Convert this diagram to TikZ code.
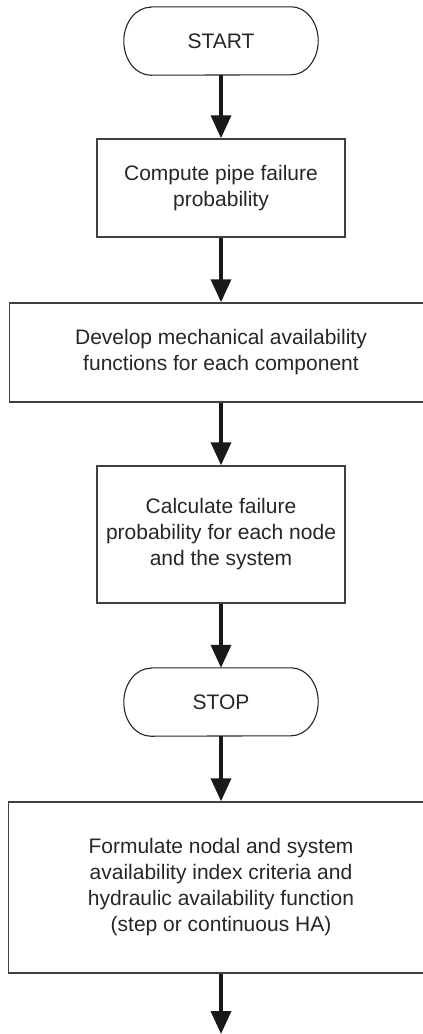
\documentclass[tikz,border=0pt]{standalone}
\usepackage{fontspec}
\setmainfont{Liberation Sans}
\usetikzlibrary{arrows.meta}
\tikzset{
  boxline/.style={draw=black!75, line width=1.5pt},
  stepbox/.style={boxline, rectangle, inner sep=0pt, align=center, text=black!85,
    font=\fontsize{21pt}{26pt}\selectfont},
  termnode/.style={rectangle, inner sep=0pt, align=center, text=black!85,
    minimum width=194pt, minimum height=68pt, font=\fontsize{21pt}{26pt}\selectfont},
  termline/.style={draw=black!85, line width=1.1pt},
  flow/.style={draw=black!90, line width=3.6pt, -{Triangle[width=20pt,length=23pt]}}
}
\newcommand\termoutline[1]{%
  \draw[termline] ([xshift=27pt]#1.north west) -- ([xshift=-27pt]#1.north east)
    arc[start angle=90,end angle=-90,x radius=27pt,y radius=34pt]
    -- ([xshift=27pt]#1.south west)
    arc[start angle=270,end angle=90,x radius=27pt,y radius=34pt] -- cycle;}
\begin{document}
\begin{tikzpicture}[x=1pt,y=-1pt]
\path[use as bounding box] (0,0) rectangle (423,1034);
\clip (0,0) rectangle (423,1034);
\node[termnode] (start) at (221,41) {START};
\termoutline{start}
\node[stepbox, minimum width=248pt, minimum height=98pt] (b1) at (221,188)
  {Compute pipe failure\\probability};
\node[stepbox, minimum width=423pt, minimum height=99pt] (b2) at (221,352.5)
  {Develop mechanical availability\\functions for each component};
\node[stepbox, minimum width=248pt, minimum height=137pt] (b3) at (221,534.5)
  {Calculate failure\\probability for each node\\and the system};
\node[termnode] (stop) at (221,702) {STOP};
\termoutline{stop}
\node[stepbox, minimum width=425pt, minimum height=171pt] (b4) at (221,887.5)
  {Formulate nodal and system\\availability index criteria and\\hydraulic availability function\\(step or continuous HA)};
\coordinate (end) at (221,1034);
\draw[flow] (start.south) -- (b1.north);
\draw[flow] (b1.south) -- (b2.north);
\draw[flow] (b2.south) -- (b3.north);
\draw[flow] (b3.south) -- (stop.north);
\draw[flow] (stop.south) -- (b4.north);
\draw[flow] (b4.south) -- (end);
\end{tikzpicture}
\end{document}
